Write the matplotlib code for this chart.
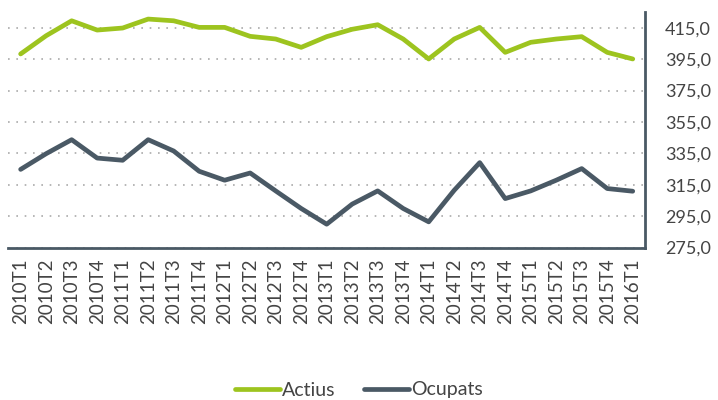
import matplotlib.pyplot as plt
from matplotlib.ticker import FuncFormatter

plt.rcParams["font.family"] = ["Lato", "DejaVu Sans"]

quarters = [
    "2010T1", "2010T2", "2010T3", "2010T4", "2011T1", "2011T2", "2011T3",
    "2011T4", "2012T1", "2012T2", "2012T3", "2012T4", "2013T1", "2013T2",
    "2013T3", "2013T4", "2014T1", "2014T2", "2014T3", "2014T4", "2015T1",
    "2015T2", "2015T3", "2015T4", "2016T1",
]
actius = [
    398.3, 409.9, 419.4, 413.5, 414.8, 420.5, 419.4, 415.2, 415.2, 409.5,
    407.8, 402.5, 409.3, 414.0, 416.9, 407.8, 395.1, 407.8, 415.2, 399.3,
    405.7, 407.8, 409.3, 399.3, 395.1,
]
ocupats = [
    324.8, 334.8, 343.7, 332.0, 330.6, 343.7, 336.5, 323.6, 317.9, 322.5,
    311.1, 299.9, 289.9, 302.7, 311.1, 299.9, 291.4, 311.5, 329.1, 306.2,
    311.1, 317.9, 325.3, 312.6, 310.9,
]
y_ticks = list(range(275, 416, 20))

green = "#9dc41f"
slate = "#4a5965"

fig = plt.figure(figsize=(7.18, 4.0), dpi=100)
ax = fig.add_axes([0.011, 0.381, 0.888, 0.589])

x = range(len(quarters))
ax.plot(x, actius, color=green, lw=3.4, label="Actius", solid_capstyle="round")
ax.plot(x, ocupats, color=slate, lw=3.4, label="Ocupats", solid_capstyle="round")

ax.set_xlim(-0.5, len(quarters) - 0.5)
ax.set_ylim(275, 425)
ax.set_xticks(list(x))
ax.set_xticklabels(quarters, rotation=90, fontsize=13.5, color="#444444")
ax.set_yticks(y_ticks)
ax.yaxis.set_major_formatter(FuncFormatter(lambda v, _: f"{v:.1f}".replace(".", ",")))
ax.yaxis.tick_right()
ax.tick_params(axis="y", length=0, pad=14, labelsize=13, labelcolor="#444444")
ax.tick_params(axis="x", length=0, pad=8)

ax.grid(axis="y", linestyle=(0, (1, 4)), color="#aaaaaa", lw=1.2)
ax.set_axisbelow(True)

for side in ("left", "top"):
    ax.spines[side].set_visible(False)
for side in ("bottom", "right"):
    ax.spines[side].set_color(slate)
    ax.spines[side].set_linewidth(2)

fig.legend(loc="center", bbox_to_anchor=(0.5, 0.025), ncol=2, frameon=False,
           fontsize=14, handlelength=2.3, handletextpad=0.1, columnspacing=1.5,
           labelcolor="#444444")

fig.savefig("out.png", dpi=100)
